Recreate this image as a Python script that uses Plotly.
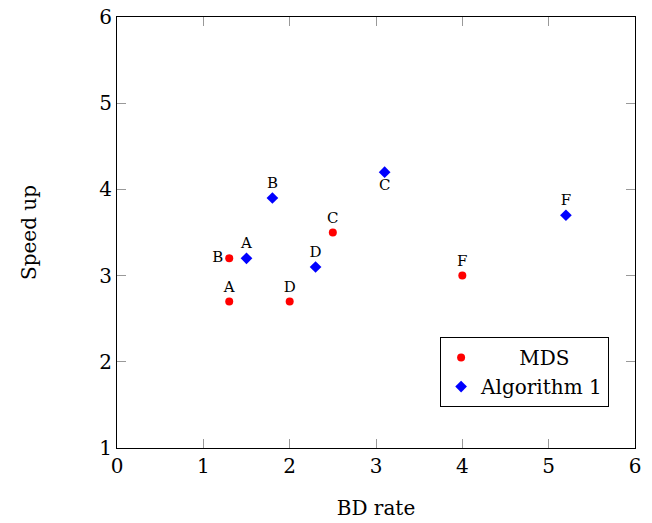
import plotly.graph_objects as go

mds_x = [1.3, 1.3, 2.5, 2.0, 4.0]
mds_y = [2.7, 3.2, 3.5, 2.7, 3.0]
mds_labels = ["A", "B", "C", "D", "F"]
mds_pos = ["top center", "middle left", "top center", "top center", "top center"]

alg_x = [1.5, 1.8, 3.1, 2.3, 5.2]
alg_y = [3.2, 3.9, 4.2, 3.1, 3.7]
alg_labels = ["A", "B", "C", "D", "F"]
alg_pos = ["top center", "top center", "bottom center", "top center", "top center"]

ticks = [0, 1, 2, 3, 4, 5, 6]
yticks = [1, 2, 3, 4, 5, 6]

FONT = "DejaVu Serif"
NB = "\u00a0"

fig = go.Figure()
fig.add_trace(go.Scatter(
    x=mds_x, y=mds_y, mode="markers+text", name=NB * 6 + "MDS",
    text=mds_labels, textposition=mds_pos,
    textfont=dict(family=FONT, size=15, color="black"),
    marker=dict(symbol="circle", size=8, color="red"),
))
fig.add_trace(go.Scatter(
    x=alg_x, y=alg_y, mode="markers+text", name="Algorithm 1",
    text=alg_labels, textposition=alg_pos,
    textfont=dict(family=FONT, size=15, color="black"),
    marker=dict(symbol="diamond", size=9, color="blue"),
))

axis_common = dict(
    showgrid=False, zeroline=False, showline=True, linecolor="black", linewidth=1,
    mirror="allticks", ticks="inside", ticklen=9, tickcolor="#999999", tickwidth=1,
    tickfont=dict(family=FONT, size=20, color="black"), automargin=False,
)
fig.update_xaxes(range=[0, 6], tickvals=ticks, ticktext=[str(t) for t in ticks],
                 title=dict(text="BD rate", font=dict(family=FONT, size=20, color="black"), standoff=23),
                 **axis_common)
fig.update_yaxes(range=[1, 6], tickvals=yticks, ticktext=[str(t) for t in yticks],
                 title=dict(text="Speed up", font=dict(family=FONT, size=20, color="black"), standoff=57),
                 **axis_common)

fig.update_layout(
    width=652, height=523,
    margin=dict(l=117, r=17, t=17, b=75),
    plot_bgcolor="white", paper_bgcolor="white",
    font=dict(family=FONT, color="black"),
    legend=dict(x=0.95, y=0.095, xanchor="right", yanchor="bottom",
                bordercolor="black", borderwidth=1, bgcolor="white",
                font=dict(family=FONT, size=20, color="black"),
                itemwidth=30, tracegroupgap=0),
)

fig.write_html("out.html", config={"displayModeBar": False},
               post_script="document.body.style.margin='0';")
